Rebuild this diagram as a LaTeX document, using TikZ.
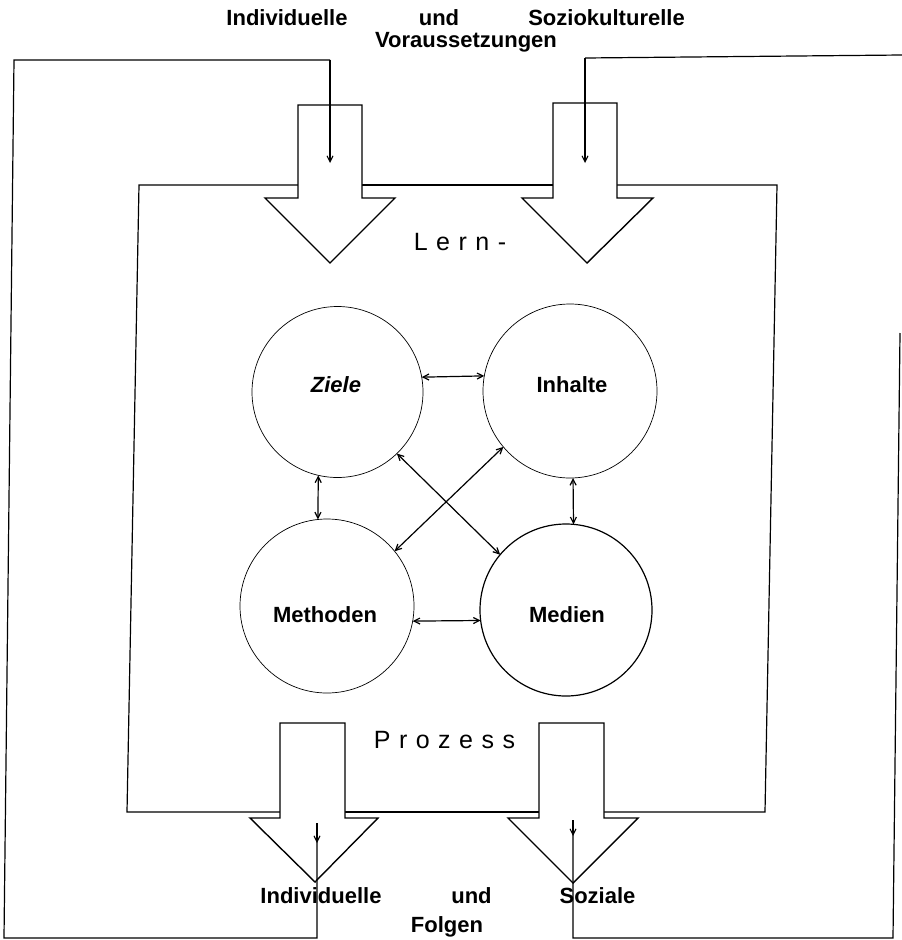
\documentclass[tikz,border=0pt]{standalone}
\usepackage{fontspec}
\setmainfont{Liberation Sans}
\newfontfamily\spacedfont[LetterSpace=34]{Liberation Sans}
\usetikzlibrary{arrows.meta}
\begin{document}
\begin{tikzpicture}[x=1pt,y=-1pt,
  line/.style={line width=1.2pt, line join=miter},
  blockarrow/.style={line width=1.4pt, fill=white, line join=miter},
  downtip/.style={-{Straight Barb[length=6pt,width=6pt]}, line width=1.1pt},
  rel/.style={{Straight Barb[length=6pt,width=6pt]}-{Straight Barb[length=6pt,width=6pt]}, line width=1.2pt},
  topic/.style={circle, draw, line width=0.7pt, inner sep=0pt, outer sep=0pt},
  lab/.style={anchor=base, font=\fontsize{22}{26}\selectfont\bfseries, inner sep=0pt},
  proc/.style={anchor=base, font=\fontsize{25}{30}\selectfont\spacedfont, inner sep=0pt}
]
\useasboundingbox[fill=white] (0,0) rectangle (902,940);

% inner box (Lern-Prozess)
\draw[line] (298,185) -- (139,185) -- (127,812) -- (280,812);
\draw[line] (345,812) -- (539,812);
\draw[line] (604,812) -- (765,812) -- (777,185) -- (617,185);
\draw[line] (553,185) -- (362,185);

% block arrows
\draw[blockarrow] (298,105) -- (362,105) -- (362,198) -- (395,198) -- (330,263) -- (265,198) -- (298,198) -- cycle;
\draw[blockarrow] (553,103) -- (617,103) -- (617,198) -- (653,198) -- (587,263) -- (522,198) -- (553,198) -- cycle;
\draw[blockarrow] (280,723) -- (345,723) -- (345,818) -- (378,818) -- (315,882) -- (250,818) -- (280,818) -- cycle;
\draw[blockarrow] (539,723) -- (604,723) -- (604,818) -- (638,818) -- (573,883) -- (508,818) -- (539,818) -- cycle;

% outer feedback loops
\coordinate (tlc) at (330,60);
\coordinate (tle) at (330,163);
\coordinate (tl) at (14,60);
\coordinate (bl) at (4,938);
\coordinate (blc) at (317,938);
\coordinate (bls) at (317,823);
\coordinate (blm) at (317,843);
\draw[line] (bls) -- (blc) -- (bl) -- (tl) -- (tlc);
\draw[downtip] (tlc) -- (tle);
\draw[downtip] (bls) -- (blm);

\coordinate (trc) at (585,58);
\coordinate (tre) at (585,163);
\coordinate (tr) at (902,55);
\coordinate (rv) at (900,333);
\coordinate (br) at (893,938);
\coordinate (brc) at (573,938);
\coordinate (brs) at (573,820);
\coordinate (brm) at (573,836);
\draw[line] (tr) -- (trc);
\draw[line] (rv) -- (br) -- (brc) -- (brs);
\draw[downtip] (trc) -- (tre);
\draw[downtip] (brs) -- (brm);

% circles
\node[topic, minimum size=171pt] (ziele) at (337.5,392) {};
\node[topic, minimum size=174pt] (inhalte) at (570,391) {};
\node[topic, minimum size=174pt] (methoden) at (327,606) {};
\node[topic, minimum size=172pt, line width=1.2pt] (medien) at (566,610) {};

\node[lab, font=\fontsize{22}{26}\selectfont\bfseries\itshape] (zielet) at (336,392) {Ziele};
\node[lab] (inhaltet) at (572,392) {Inhalte};
\node[lab] (methodent) at (325,622) {Methoden};
\node[lab] (medient) at (567,622) {Medien};

% relations
\draw[rel] (ziele.10) -- (inhalte.170);
\draw[rel] (ziele.257) -- (methoden.96);
\draw[rel] (inhalte.272) -- (medien.85);
\draw[rel] (methoden.-10) -- (medien.187);
\draw[rel] (ziele.-46) -- (medien.140);
\draw[rel] (inhalte.220) -- (methoden.39);

% texts
\node[lab] (t1) at (287,25) {Individuelle};
\node[lab] (t2) at (439,25) {und};
\node[lab] (t3) at (606.5,25) {Soziokulturelle};
\node[lab] (t4) at (466,47) {Voraussetzungen};

\node[proc] (lern) at (460,250) {Lern-};
\node[proc] (prozess) at (444.5,748) {Prozess};

\node[lab] (b1) at (321,903) {Individuelle};
\node[lab] (b2) at (471.5,903) {und};
\node[lab] (b3) at (597.5,903) {Soziale};
\node[lab] (b4) at (447,932) {Folgen};
\end{tikzpicture}
\end{document}
